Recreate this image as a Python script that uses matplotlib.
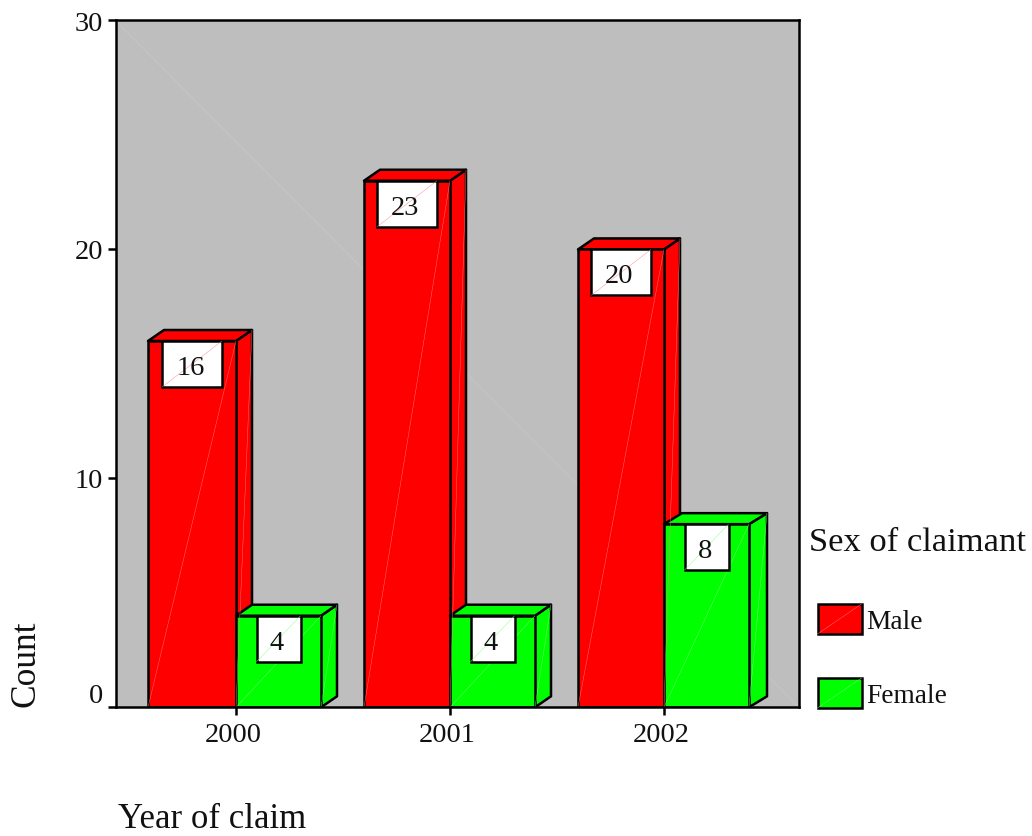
import matplotlib
matplotlib.use("Agg")
import matplotlib.pyplot as plt
from matplotlib.patches import Rectangle, Polygon
from matplotlib.transforms import ScaledTranslation

plt.rcParams['font.family'] = ['Liberation Serif', 'DejaVu Serif']

years = ['2000', '2001', '2002']
male = [16, 23, 20]
female = [4, 4, 8]
series_names = ['Male', 'Female']
series_colors = ['#ff0000', '#00ff00']
y_ticks = [0, 10, 20, 30]

W, H = 1032, 836
fig = plt.figure(figsize=(W / 100, H / 100), dpi=100, facecolor='white')
L, R, T, B = 115.5, 799, 20.5, 707.3
ax = fig.add_axes([L / W, 1 - B / H, (R - L) / W, (B - T) / H])
ax.set_facecolor('#bebebe')

PX_X = 214.0                 # pixels per category
PX_Y = (B - T) / 30.0        # pixels per count
ax.set_xlim((L - 236) / PX_X, (R - 236) / PX_X)
ax.set_ylim(0, 30)

dy = 11 / PX_Y
EDGE = 1.8


def shade(color):
    return '#ff8080' if color == '#ff0000' else '#80ff80'


def bar3d(x0, width, value, color, depth=16):
    x1 = x0 + width
    dx = depth / PX_X
    ax.add_patch(Polygon([(x1, 0), (x1 + dx, dy), (x1 + dx, value + dy), (x1, value)],
                         fc=color, ec='black', lw=EDGE, zorder=3, joinstyle='round'))
    ax.add_patch(Polygon([(x0, value), (x0 + dx, value + dy), (x1 + dx, value + dy), (x1, value)],
                         fc=color, ec='black', lw=EDGE, zorder=3, joinstyle='round'))
    ax.add_patch(Rectangle((x0, 0), width, value, fc=color, ec='black', lw=EDGE,
                           zorder=3, joinstyle='round'))
    ax.plot([x0, x1], [0, value], color=shade(color), lw=0.3, zorder=3.1,
            solid_capstyle='butt')
    ax.plot([x1, x1 + dx], [0, value + dy], color=shade(color), lw=0.3, zorder=3.1,
            solid_capstyle='butt')


def value_box(xc, value, color):
    bw = (60 if value >= 10 else 44) / PX_X
    bh = 46 / PX_Y
    ax.add_patch(Rectangle((xc - bw / 2, value - bh), bw, bh, fc='white', ec='black',
                           lw=EDGE, zorder=4))
    ax.plot([xc - bw / 2, xc + bw / 2], [value - bh, value], color=shade(color), lw=0.3,
            zorder=4.1, solid_capstyle='butt')
    ax.annotate(str(value), (xc, value - bh / 2), xytext=(-1.2, -3.2),
                textcoords='offset points', ha='center', va='center', fontsize=20.5,
                color='#111111', zorder=5)


# faint seam of the plot background
ax.plot([0, 1], [1, 0], transform=ax.transAxes, color='#c8c8c8', lw=0.5, zorder=1)

male_w = [88 / PX_X, 86 / PX_X, 86 / PX_X]
fem_w = 85 / PX_X
fem_depth = [16, 16, 18]
for i in range(len(years)):
    bar3d(i - male_w[i], male_w[i], male[i], series_colors[0])
    bar3d(i, fem_w, female[i], series_colors[1], fem_depth[i])
    value_box(i - male_w[i] / 2, male[i], series_colors[0])
    value_box(i + fem_w / 2, female[i], series_colors[1])

for s in ax.spines.values():
    s.set_linewidth(EDGE)
    s.set_color('black')
    s.set_zorder(6)

ax.set_xticks(range(len(years)))
ax.set_xticklabels(years, fontsize=20.5, color='#111111')
ax.set_yticks(y_ticks)
ax.set_yticklabels([str(v) for v in y_ticks], fontsize=20.5, color='#111111')
ax.tick_params(axis='x', length=6, width=EDGE, pad=5.5)
ax.tick_params(axis='y', length=5.5, width=EDGE, pad=3.5)

for lab in ax.get_xticklabels():
    lab.set_transform(lab.get_transform() + ScaledTranslation(-3 / 100, 0, fig.dpi_scale_trans))
y_shift = {0: (0, 14), 10: (0, 0), 20: (0, 0), 30: (0, -1)}
for v, lab in zip(y_ticks, ax.get_yticklabels()):
    sx, sy = y_shift[v]
    lab.set_transform(lab.get_transform() + ScaledTranslation(sx / 100, sy / 100, fig.dpi_scale_trans))


def ftext(x, y, s, size, **kw):
    fig.text(x / W, 1 - y / H, s, fontsize=size, color='#111111', **kw)


ftext(25.5, 664, 'Count', 25.5, rotation=90, ha='center', va='center')
ftext(118, 828, 'Year of claim', 25, ha='left', va='baseline')
ftext(809, 551, 'Sex of claimant', 24.8, ha='left', va='baseline')

for name, color, top in zip(series_names, series_colors, [604, 678]):
    fig.add_artist(Rectangle((817.5 / W, 1 - (top + 30) / H), 44 / W, 30 / H,
                             transform=fig.transFigure, fc=color, ec='black', lw=EDGE))
    fig.add_artist(plt.Line2D([817.5 / W, 861.5 / W], [1 - (top + 30) / H, 1 - top / H],
                              transform=fig.transFigure, color=shade(color), lw=0.3))
    ftext(866, top + 25, name, 19.7, ha='left', va='baseline')

fig.savefig('out.png', dpi=100, facecolor='white')
